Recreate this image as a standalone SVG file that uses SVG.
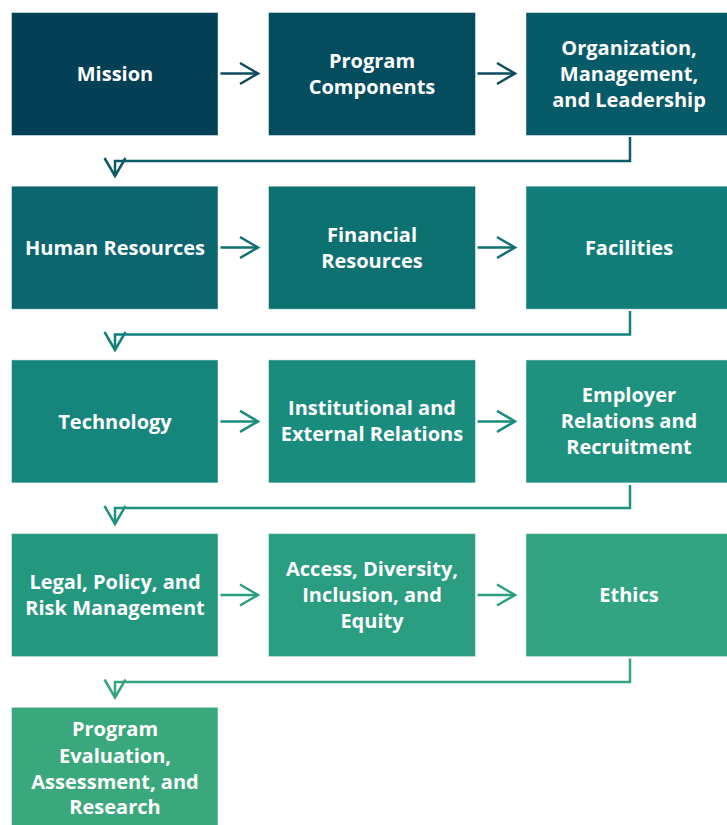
<svg xmlns="http://www.w3.org/2000/svg" width="727" height="825" viewBox="0 0 727 825">
<style>
.box{stroke:#ffffff;stroke-opacity:0.45;stroke-width:1}
.t{font-family:"Open Sans","Liberation Sans",sans-serif;font-weight:bold;font-size:20px;fill:#ffffff;text-anchor:middle}
.c{fill:none;stroke-width:2.5}
</style>
<defs>
<marker id="m1" markerUnits="userSpaceOnUse" markerWidth="24" markerHeight="24" refX="0" refY="0" orient="auto" overflow="visible"><path d="M-18,-10.5 L0,0 L-18,10.5" fill="none" stroke="#0c4b5e" stroke-width="2.5"/></marker>
<marker id="m2" markerUnits="userSpaceOnUse" markerWidth="24" markerHeight="24" refX="0" refY="0" orient="auto" overflow="visible"><path d="M-18,-10.5 L0,0 L-18,10.5" fill="none" stroke="#0b5c67" stroke-width="2.5"/></marker>
<marker id="m3" markerUnits="userSpaceOnUse" markerWidth="24" markerHeight="24" refX="0" refY="0" orient="auto" overflow="visible"><path d="M-18,-10.5 L0,0 L-18,10.5" fill="none" stroke="#0e7070" stroke-width="2.5"/></marker>
<marker id="m4" markerUnits="userSpaceOnUse" markerWidth="24" markerHeight="24" refX="0" refY="0" orient="auto" overflow="visible"><path d="M-18,-10.5 L0,0 L-18,10.5" fill="none" stroke="#127f7a" stroke-width="2.5"/></marker>
<marker id="m5" markerUnits="userSpaceOnUse" markerWidth="24" markerHeight="24" refX="0" refY="0" orient="auto" overflow="visible"><path d="M-18,-10.5 L0,0 L-18,10.5" fill="none" stroke="#1a8c7e" stroke-width="2.5"/></marker>
<marker id="m6" markerUnits="userSpaceOnUse" markerWidth="24" markerHeight="24" refX="0" refY="0" orient="auto" overflow="visible"><path d="M-18,-10.5 L0,0 L-18,10.5" fill="none" stroke="#1f937f" stroke-width="2.5"/></marker>
<marker id="m7" markerUnits="userSpaceOnUse" markerWidth="24" markerHeight="24" refX="0" refY="0" orient="auto" overflow="visible"><path d="M-18,-10.5 L0,0 L-18,10.5" fill="none" stroke="#2b9e80" stroke-width="2.5"/></marker>
<marker id="m8" markerUnits="userSpaceOnUse" markerWidth="24" markerHeight="24" refX="0" refY="0" orient="auto" overflow="visible"><path d="M-18,-10.5 L0,0 L-18,10.5" fill="none" stroke="#36a57f" stroke-width="2.5"/></marker>
</defs>

<g id="connectors">
<path class="c" stroke="#0c4b5e" d="M220.5,73.5 H258" marker-end="url(#m1)"/>
<path class="c" stroke="#0c4b5e" d="M477.5,73.5 H515" marker-end="url(#m1)"/>
<path class="c" stroke="#0b5c67" d="M630,137 V161 H115 V176" marker-end="url(#m2)"/>
<path class="c" stroke="#0e7070" d="M220.5,247.5 H258" marker-end="url(#m3)"/>
<path class="c" stroke="#0e7070" d="M477.5,247.5 H515" marker-end="url(#m3)"/>
<path class="c" stroke="#127f7a" d="M630,311 V334.5 H115 V350" marker-end="url(#m4)"/>
<path class="c" stroke="#1a8c7e" d="M220.5,421.4 H258" marker-end="url(#m5)"/>
<path class="c" stroke="#1a8c7e" d="M477.5,421.4 H515" marker-end="url(#m5)"/>
<path class="c" stroke="#1f937f" d="M630,485 V508 H115 V524" marker-end="url(#m6)"/>
<path class="c" stroke="#2b9e80" d="M220.5,595 H258" marker-end="url(#m7)"/>
<path class="c" stroke="#2b9e80" d="M477.5,595 H515" marker-end="url(#m7)"/>
<path class="c" stroke="#36a57f" d="M630,658.5 V682 H115 V697.5" marker-end="url(#m8)"/>
</g>

<g id="n1"><rect class="box" x="11.5" y="12.5" width="206.5" height="123" fill="#033f55"/>
<text class="t" x="115" y="81">Mission</text></g>
<g id="n2"><rect class="box" x="268.5" y="12.5" width="207" height="123" fill="#044d5f"/>
<text class="t" x="372" y="68">Program</text><text class="t" x="372" y="94">Components</text></g>
<g id="n3"><rect class="box" x="526" y="12.5" width="206" height="123" fill="#075a67"/>
<text class="t" x="629" y="55">Organization,</text><text class="t" x="629" y="81">Management,</text><text class="t" x="629" y="107">and Leadership</text></g>

<g id="n4"><rect class="box" x="11.5" y="186.2" width="206.5" height="123" fill="#0b666f"/>
<text class="t" x="115" y="255">Human Resources</text></g>
<g id="n5"><rect class="box" x="268.5" y="186.2" width="207" height="123" fill="#0d7171"/>
<text class="t" x="372" y="242">Financial</text><text class="t" x="372" y="268">Resources</text></g>
<g id="n6"><rect class="box" x="526" y="186.2" width="206" height="123" fill="#117e7a"/>
<text class="t" x="629" y="255">Facilities</text></g>

<g id="n7"><rect class="box" x="11.5" y="359.9" width="206.5" height="123" fill="#16857c"/>
<text class="t" x="115" y="428.5">Technology</text></g>
<g id="n8"><rect class="box" x="268.5" y="359.9" width="207" height="123" fill="#1a8c7e"/>
<text class="t" x="372" y="415">Institutional and</text><text class="t" x="372" y="441">External Relations</text></g>
<g id="n9"><rect class="box" x="526" y="359.9" width="206" height="123" fill="#1f927f"/>
<text class="t" x="629" y="402">Employer</text><text class="t" x="629" y="428">Relations and</text><text class="t" x="629" y="454">Recruitment</text></g>

<g id="n10"><rect class="box" x="11.5" y="533.6" width="206.5" height="123" fill="#24977f"/>
<text class="t" x="115" y="589">Legal, Policy, and</text><text class="t" x="115" y="615">Risk Management</text></g>
<g id="n11"><rect class="box" x="268.5" y="533.6" width="207" height="123" fill="#2b9d80"/>
<text class="t" x="372" y="576">Access, Diversity,</text><text class="t" x="372" y="602">Inclusion, and</text><text class="t" x="372" y="628">Equity</text></g>
<g id="n12"><rect class="box" x="526" y="533.6" width="206" height="123" fill="#33a481"/>
<text class="t" x="629" y="602">Ethics</text></g>

<g id="n13"><rect class="box" x="11.5" y="707.3" width="206.5" height="123" fill="#3aa87c"/>
<text class="t" x="115" y="736">Program</text><text class="t" x="115" y="763">Evaluation,</text><text class="t" x="115" y="789">Assessment, and</text><text class="t" x="115" y="814">Research</text></g>
</svg>
